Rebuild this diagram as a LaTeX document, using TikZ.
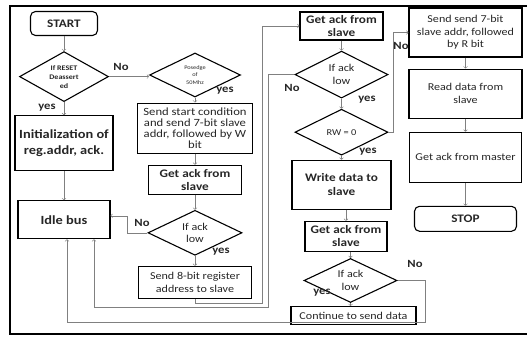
\documentclass[tikz,border=0pt]{standalone}
\usepackage{fontspec}
\setmainfont[FakeStretch=1.15]{Carlito}
\usetikzlibrary{shapes,positioning}

\newcommand{\txtreg}{\fontsize{10.5}{12.5}\selectfont}
\newcommand{\txtbold}{\bfseries\fontsize{11.5}{13}\selectfont}
\newcommand{\txtbig}{\bfseries\fontsize{12.5}{16}\selectfont}

\tikzstyle{procbox} = [draw=black, line width=1.1pt, rectangle, align=center,
    inner sep=2pt, text=black!85, font=\txtreg]
\tikzstyle{termbox} = [procbox, rounded corners=5pt, font=\txtbold]
\tikzstyle{decision} = [draw=black, line width=1.1pt, diamond, aspect=2,
    inner sep=0pt, align=center, text=black!85, font=\txtreg]
\tikzstyle{flowline} = [draw=black!50, line width=0.6pt, ->]
\tikzstyle{lbl} = [text=black!85, inner sep=1pt, font=\bfseries\fontsize{11}{12}\selectfont]

\begin{document}
\begin{tikzpicture}[x=1pt,y=1pt]
\useasboundingbox (0,0) rectangle (527,-337);
\draw [line width=2pt] (527,-6) -- (10,-6) -- (10,-334) -- (527,-334);

% reset / idle column
\node [termbox, minimum width=67pt, minimum height=24pt] (start) at (64,-23.5) {START};
\node [decision, minimum width=89pt, minimum height=50pt,
    font=\bfseries\fontsize{7}{9}\selectfont, below=15pt of start] (rst) {If RESET\\Deassert\\ed};
\node [procbox, minimum width=98pt, minimum height=55pt, font=\txtbig,
    below=13pt of rst] (init) {Initialization of\\reg.addr, ack.};
\node [procbox, minimum width=92pt, minimum height=38pt, font=\txtbig,
    below=29pt of init] (idle) {Idle bus};

% address column
\node [decision, minimum width=91pt, minimum height=44pt,
    font=\fontsize{5.5}{7.5}\selectfont] (clk) at (195,-75) {Posedge\\of\\50Mhz};
\node [procbox, minimum width=115pt, minimum height=50pt, font=\fontsize{11}{11}\selectfont,
    below=5pt of clk] (sendw) {Send start condition\\and send 7-bit slave\\addr, followed by W\\bit};
\node [procbox, minimum width=93pt, minimum height=29pt, font=\txtbold,
    below=11pt of sendw] (ack1) {Get ack from\\slave};
\node [decision, minimum width=94pt, minimum height=45pt, below=15pt of ack1] (chk1) {If ack\\low};
\node [procbox, minimum width=113pt, minimum height=32pt,
    below=10pt of chk1] (sendreg) {Send 8-bit register\\address to slave};

% write column
\node [procbox, minimum width=83pt, minimum height=28pt, font=\txtbold] (ack2) at (341.5,-26) {Get ack from\\slave};
\node [decision, minimum width=93pt, minimum height=47pt, below=10pt of ack2] (chk2) {If ack\\low};
\node [decision, minimum width=93pt, minimum height=46pt, font=\fontsize{9}{10}\selectfont,
    below=10pt of chk2] (rw) {RW = 0};
\node [procbox, minimum width=99pt, minimum height=49pt, font=\bfseries\fontsize{11.5}{14}\selectfont,
    below=4pt of rw] (wdata) {Write data to\\slave};
\node [procbox, minimum width=82pt, minimum height=30pt, font=\txtbold,
    below=11pt of wdata, xshift=4.5pt] (ack3) {Get ack from\\slave};
\node [decision, minimum width=93pt, minimum height=44pt,
    below=6pt of ack3, xshift=4.5pt] (chk3) {If ack\\low};
\node [procbox, minimum width=125pt, minimum height=18pt,
    below=3pt of chk3, xshift=3pt] (cont) {Continue to send data};

% read column
\node [procbox, minimum width=113pt, minimum height=49pt] (sendr) at (465.5,-32.5) {Send send 7-bit\\slave addr, followed\\by R bit};
\node [procbox, minimum width=113pt, minimum height=49pt, below=11pt of sendr] (rdata) {Read data from\\slave};
\node [procbox, minimum width=112pt, minimum height=50pt, below=13pt of rdata] (ackm) {Get ack from master};
\node [termbox, minimum width=102pt, minimum height=25pt, below=23pt of ackm] (stop) {STOP};

% turning points of the long lines
\coordinate (loopup) at (262,-303);
\coordinate (backa) at (268,-307);
\coordinate (backb) at (425,-322);

\draw [flowline] (start) -- (rst);
\draw [flowline] (rst) -- (init);
\draw [flowline] (init) -- (idle);
\draw [flowline] (rst.east) -- (rst.east -| clk.west);
\draw [flowline] (clk) -- (sendw);
\draw [flowline] (sendw) -- (ack1);
\draw [flowline] (ack1) -- (chk1);
\draw [flowline] (chk1.west) -- ++(-20,0) |- ([yshift=4pt]idle.east);
\draw [flowline] (chk1) -- (sendreg);
\draw [flowline] (sendreg.south) |- (loopup) |- (ack2.west);
\draw [flowline] (ack2) -- (chk2);
\draw [flowline] (chk2.west) -| (backa) -| ([xshift=30pt]idle.south);
\draw [flowline] (chk2) -- (rw);
\draw [flowline] (rw.east) -- ++(5,0) |- (sendr.west);
\draw [flowline] (rw) -- (wdata);
\draw [flowline] (wdata.south -| ack3.north) -- (ack3.north);
\draw [flowline] (ack3.south -| chk3.north) -- (chk3.north);
\draw [flowline] (chk3.south) -- (chk3.south |- cont.north);
\draw [flowline] (chk3.east) -| (backb) -| ([xshift=3pt]idle.south);
\draw [flowline] (sendr) -- (rdata);
\draw [flowline] (rdata) -- (ackm);
\draw [flowline] (ackm) -- (stop);

\node [lbl] (no1) at (121,-67) {No};
\node [lbl] (yes1) at (47,-108) {yes};
\node [lbl] (yes2) at (225,-91) {yes};
\node [lbl] (no2) at (142,-223) {No};
\node [lbl] (yes3) at (221,-252) {yes};
\node [lbl] (no3) at (292,-88) {No};
\node [lbl] (yes4) at (367,-100) {yes};
\node [lbl] (yes5) at (368,-152) {yes};
\node [lbl] (no4) at (401,-46) {No};
\node [lbl] (yes6) at (322,-293) {yes};
\node [lbl] (no5) at (415,-264) {No};
\end{tikzpicture}
\end{document}
